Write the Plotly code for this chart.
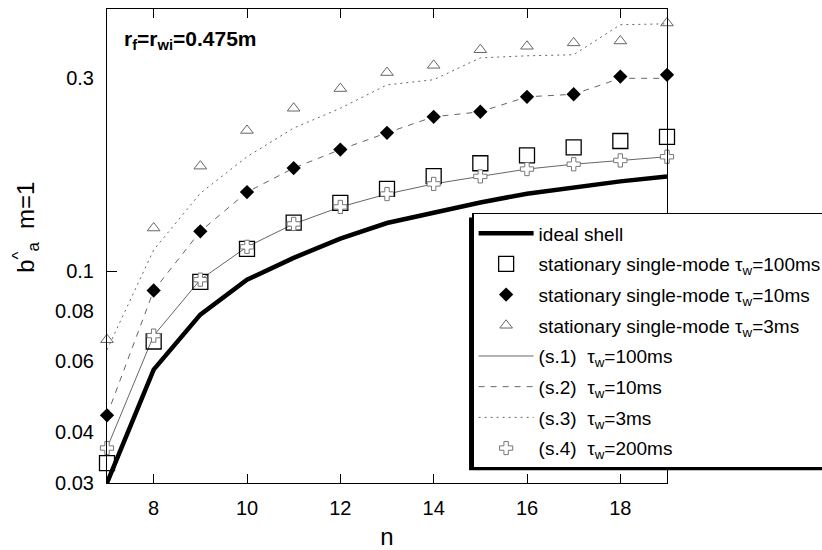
import plotly.graph_objects as go

n = [7, 8, 9, 10, 11, 12, 13, 14, 15, 16, 17, 18, 19]

ideal_shell = [0.0300, 0.0572, 0.0782, 0.0954, 0.108, 0.1205, 0.1317, 0.140, 0.148, 0.1556, 0.1616, 0.1669, 0.1716]
stat_100ms = [0.0336, 0.0671, 0.0942, 0.1137, 0.132, 0.1476, 0.160, 0.172, 0.185, 0.1935, 0.2025, 0.210, 0.215]
stat_10ms = [0.0441, 0.0897, 0.1256, 0.157, 0.180, 0.200, 0.220, 0.241, 0.248, 0.270, 0.274, 0.303, 0.306]
stat_3ms = [0.0678, 0.128, 0.182, 0.223, 0.253, 0.283, 0.310, 0.323, 0.353, 0.360, 0.367, 0.371, 0.411]
s1_100ms = [0.0366, 0.0694, 0.0954, 0.115, 0.131, 0.1443, 0.1553, 0.1645, 0.1717, 0.179, 0.184, 0.188, 0.192]
s2_10ms = [0.0441, 0.0897, 0.1256, 0.157, 0.180, 0.200, 0.220, 0.241, 0.248, 0.270, 0.274, 0.300, 0.300]
s3_3ms = [0.064, 0.113, 0.156, 0.192, 0.226, 0.253, 0.289, 0.2976, 0.337, 0.341, 0.343, 0.407, 0.409]
s4_200ms = [0.0366, 0.0694, 0.0954, 0.115, 0.131, 0.1443, 0.1553, 0.1645, 0.1717, 0.179, 0.184, 0.188, 0.192]

x_ticks = [8, 10, 12, 14, 16, 18]
y_ticks = [0.03, 0.04, 0.06, 0.08, 0.1, 0.3]
y_tick_text = ["0.03", "0.04", "0.06", "0.08", "0.1", "0.3"]

FONT = "Arial, Liberation Sans, sans-serif"
sp = "\u00a0"

fig = go.Figure()

def add(y, name, rank, **kw):
    fig.add_trace(go.Scatter(x=n, y=y, name=name, legendrank=rank, legendgroup="g%d" % rank,
                             cliponaxis=False, **kw))

add(ideal_shell, "ideal shell", 1, mode="lines", line=dict(color="black", width=4.5))
add(s1_100ms, "(s.1)" + sp + sp + "τ<sub>w</sub>=100ms", 5, mode="lines",
    line=dict(color="#666666", width=1))
add(s2_10ms, "(s.2)" + sp + sp + "τ<sub>w</sub>=10ms", 6, mode="lines",
    line=dict(color="#666666", width=1, dash="6px,6px"))
add(s3_3ms, "(s.3)" + sp + sp + "τ<sub>w</sub>=3ms", 7, mode="lines",
    line=dict(color="#666666", width=1, dash="2px,4px"))
add(stat_100ms, "stationary single-mode τ<sub>w</sub>=100ms", 2, mode="markers",
    marker=dict(symbol="square-open", size=15, color="black", line=dict(width=1.3, color="black")))
add(stat_10ms, "stationary single-mode τ<sub>w</sub>=10ms", 3, mode="markers",
    marker=dict(symbol="diamond", size=11, color="black"))
add(stat_3ms, "stationary single-mode τ<sub>w</sub>=3ms", 4, mode="markers",
    marker=dict(symbol="triangle-up-open", size=11, color="#666666", line=dict(width=1, color="#666666")))
add(s4_200ms, "(s.4)" + sp + sp + "τ<sub>w</sub>=200ms", 8, mode="markers",
    marker=dict(symbol="cross", size=11, color="white", line=dict(width=1, color="#777777")))

fig.update_layout(
    width=822, height=550,
    margin=dict(l=107, r=155, t=9, b=67, autoexpand=False),
    paper_bgcolor="white", plot_bgcolor="white",
    font=dict(family=FONT, size=20, color="black"),
    showlegend=True,
    legend=dict(x=0.652, y=0.570, xanchor="left", yanchor="top",
                bgcolor="white", bordercolor="black", borderwidth=1.5,
                font=dict(family=FONT, size=19, color="black"),
                itemwidth=55, traceorder="grouped", tracegroupgap=3),
    xaxis=dict(range=[7, 19], tickvals=x_ticks, ticks="inside", ticklen=9, tickcolor="black",
               showline=True, linecolor="black", linewidth=1, mirror="ticks", showgrid=False,
               zeroline=False, ticklabelstandoff=7,
               title=dict(text="n", font=dict(size=24), standoff=12)),
    yaxis=dict(type="log", range=[-1.5229, -0.3516], tickvals=y_ticks, ticktext=y_tick_text,
               ticks="", showline=True, linecolor="black", linewidth=1, mirror=True,
               showgrid=False, zeroline=False, ticklabelstandoff=8,
               minor=dict(tickvals=[0.1], ticks="inside", ticklen=10, tickcolor="black")),
    shapes=[
        dict(type="rect", xref="paper", yref="paper", layer="above",
             x0=0.6465, x1=1.4, y0=0.027, y1=0.56,
             fillcolor="black", line=dict(width=0)),
    ],
    annotations=[
        dict(text="b<sup>^</sup><sub>a</sub>" + sp + sp + "m=1", xref="paper", yref="paper",
             x=-0.145, y=0.54, textangle=-90, showarrow=False, font=dict(size=24),
             xanchor="center", yanchor="middle"),
        dict(text="<b>r<sub>f</sub>=r<sub>wi</sub>=0.475m</b>", xref="paper", yref="paper",
             x=0.027, y=0.935, xanchor="left", yanchor="middle", showarrow=False,
             font=dict(size=21)),
    ],
)

fig.write_html("out.html")
